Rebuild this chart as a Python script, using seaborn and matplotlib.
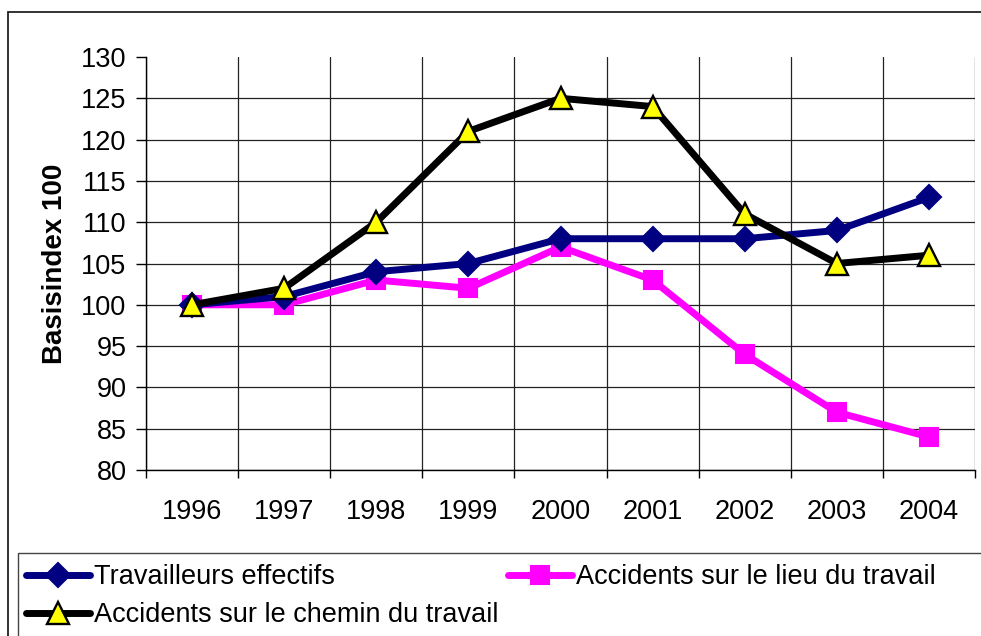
import matplotlib
matplotlib.use("Agg")
import matplotlib.pyplot as plt
from matplotlib.patches import Rectangle
from matplotlib.ticker import FixedLocator
import seaborn as sns
import pandas as pd

years = [1996, 1997, 1998, 1999, 2000, 2001, 2002, 2003, 2004]
travailleurs = [100, 101, 104, 105, 108, 108, 108, 109, 113]
lieu = [100, 100, 103, 102, 107, 103, 94, 87, 84]
chemin = [100, 102, 110, 121, 125, 124, 111, 105, 106]
labels = ["Travailleurs effectifs", "Accidents sur le lieu du travail",
          "Accidents sur le chemin du travail"]
y_ticks = [80, 85, 90, 95, 100, 105, 110, 115, 120, 125, 130]

sns.set_theme(style="white")
plt.rcParams["font.family"] = ["Liberation Sans", "DejaVu Sans"]
plt.rcParams["text.color"] = "#000000"
plt.rcParams["axes.labelcolor"] = "#000000"
plt.rcParams["xtick.color"] = "#000000"
plt.rcParams["ytick.color"] = "#000000"

W, H = 981, 636
fig = plt.figure(figsize=(W / 100, H / 100), dpi=100)
ax = fig.add_axes([146 / W, 1 - 470 / H, (975 - 146) / W, (470 - 57) / H])

df = pd.DataFrame({"year": years, "trav": travailleurs, "lieu": lieu, "chemin": chemin})

sns.lineplot(data=df, x="year", y="trav", ax=ax, color="#000080", lw=5,
             marker="D", ms=12.5, mfc="#000080", mec="#000080", mew=1.5,
             label=labels[0], zorder=4)
sns.lineplot(data=df, x="year", y="lieu", ax=ax, color="#FF00FF", lw=5,
             marker="s", ms=12.8, mfc="#FF00FF", mec="#FF00FF", mew=1.5,
             label=labels[1], zorder=3)
sns.lineplot(data=df, x="year", y="chemin", ax=ax, color="#000000", lw=5,
             marker="^", ms=15.5, mfc="#FFFF00", mec="#000000", mew=1.7,
             label=labels[2], zorder=5)

ax.set_xlim(years[0] - 0.5, years[-1] + 0.5)
ax.set_ylim(y_ticks[0], y_ticks[-1])
ax.set_xticks(years)
ax.set_xticklabels([str(y) for y in years])
ax.xaxis.set_minor_locator(FixedLocator([y - 0.5 for y in years] + [years[-1] + 0.5]))
ax.set_yticks(y_ticks)
ax.set_yticklabels([str(v) for v in y_ticks])

ax.tick_params(axis="x", which="major", length=0, pad=21, labelsize=19.5, labelcolor="#000000")
ax.tick_params(axis="x", which="minor", length=6, width=1, color="#000000", direction="out", bottom=True)
ax.tick_params(axis="y", which="major", length=7, width=1, color="#000000", direction="out",
               pad=7, labelsize=19.5, labelcolor="#000000", left=True)

ax.grid(True, axis="y", which="major", color="#222222", lw=0.9)
ax.grid(True, axis="x", which="minor", color="#222222", lw=0.9)
ax.grid(False, axis="x", which="major")
ax.yaxis.get_gridlines()[-1].set_visible(False)
ax.set_axisbelow(True)

for s in ["top", "right"]:
    ax.spines[s].set_visible(False)
for s in ["left", "bottom"]:
    ax.spines[s].set_color("#000000")
    ax.spines[s].set_linewidth(1.0)

ax.set_xlabel("")
ax.set_ylabel("Basisindex 100", fontsize=20, fontweight="bold", color="#000000")
ax.yaxis.set_label_coords((68 - 146) / (975 - 146), 0.5)

handles, labs = ax.get_legend_handles_labels()
ax.get_legend().remove()
order = [0, 2, 1]
leg = fig.legend([handles[i] for i in order], [labs[i] for i in order],
                 loc="upper left", bbox_to_anchor=(26 / W, 1 - 564 / H),
                 ncol=2, frameon=False, fontsize=19.5, borderpad=0, borderaxespad=0,
                 handlelength=2.35, handletextpad=0.15, columnspacing=0.37,
                 labelspacing=0.45)
for h in leg.legend_handles:
    h.set_solid_capstyle("round")
for t in leg.get_texts():
    t.set_color("#000000")

fig.patches.append(Rectangle((18 / W, -0.2), 1.2, 1 - 553 / H + 0.2, transform=fig.transFigure,
                             fill=False, edgecolor="#444444", lw=1.0))
fig.patches.append(Rectangle((8 / W, -0.2), 1.2, 1 - 12 / H + 0.2, transform=fig.transFigure,
                             fill=False, edgecolor="#222222", lw=1.3))

fig.savefig("out.png", dpi=100, facecolor="white")
